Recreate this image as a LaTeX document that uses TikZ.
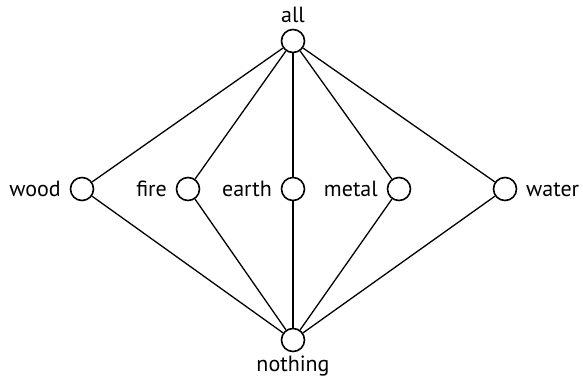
\documentclass[tikz,border=0pt]{standalone}
\usepackage{fontspec}
\setmainfont{PT Sans}
\begin{document}
\begin{tikzpicture}[x=1pt,y=-1pt,
  vert/.style={circle,draw,line width=1.6pt,minimum size=23pt,inner sep=0pt,fill=white},
  edge/.style={line width=1.3pt},
  lbl/.style={font=\fontsize{22}{24}\selectfont,inner sep=0pt}]
\useasboundingbox (0,0) rectangle (583,380);
\node[vert] (all) at (293,41) {};
\node[vert] (wood) at (82,189) {};
\node[vert] (fire) at (188,189) {};
\node[vert] (earth) at (293,189) {};
\node[vert] (metal) at (399,189) {};
\node[vert] (water) at (505,189) {};
\node[vert] (nothing) at (293,340) {};
\foreach \n in {wood,fire,earth,metal,water}{
  \draw[edge] (all) -- (\n);
  \draw[edge] (\n) -- (nothing);
}
\node[lbl,anchor=base] (lall) at (293,22) {all};
\node[lbl,anchor=base] (lnothing) at (293,371) {nothing};
\node[lbl,anchor=base east] (lwood) at (61,196) {wood};
\node[lbl,anchor=base east] (lfire) at (167,196) {fire};
\node[lbl,anchor=base east] (learth) at (272,196) {earth};
\node[lbl,anchor=base east] (lmetal) at (378,196) {metal};
\node[lbl,anchor=base west] (lwater) at (526,196) {water};
\end{tikzpicture}
\end{document}
